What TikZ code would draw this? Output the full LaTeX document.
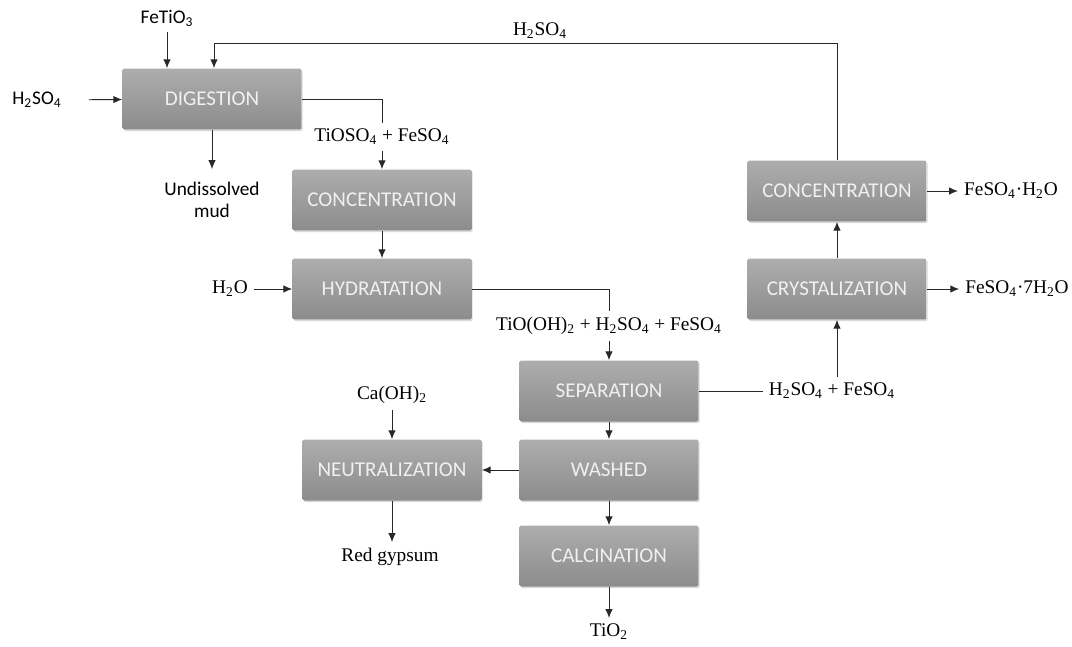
\documentclass[tikz,border=0pt]{standalone}
\usepackage{fontspec}
\setmainfont{Liberation Serif}
\newfontfamily\calibri{Carlito}
\usetikzlibrary{arrows.meta,positioning,calc,shadows}
\definecolor{boxtop}{RGB}{173,173,173}
\definecolor{boxmid}{RGB}{166,166,166}
\definecolor{boxbot}{RGB}{140,140,140}
\definecolor{wire}{RGB}{40,40,40}
\tikzset{
  unit/.style={rectangle,rounded corners=1.2pt,minimum width=3.58cm,minimum height=1.22cm,
    drop shadow={opacity=0.3,shadow xshift=0.7pt,shadow yshift=-0.9pt},
    top color=boxtop,middle color=boxmid,bottom color=boxbot,text=white!94!black,
    font=\calibri\fontsize{12}{13}\selectfont},
  sans/.style={font=\calibri\fontsize{11}{12.5}\selectfont},
  pipe/.style={draw=wire,line width=0.5pt},
  flow/.style={pipe,-{Latex[length=5pt,width=4.2pt]}},
}

\begin{document}
\begin{tikzpicture}[x=0.02cm,y=-0.02cm,every node/.style={font=\fontsize{11}{12.5}\selectfont}]
  \useasboundingbox (0,0) rectangle (1072,646);
  % process units
  \node[unit] (dig) at (212,99) {DIGESTION};
  \node[unit] (conA) at (382,200) {CONCENTRATION};
  \node[unit] (hyd) at (382,289) {HYDRATATION};
  \node[unit] (sep) at (609,391) {SEPARATION};
  \node[unit] (wash) at (609,470) {WASHED};
  \node[unit] (calcin) at (609,556) {CALCINATION};
  \node[unit] (neu) at (392,470) {NEUTRALIZATION};
  \node[unit] (conB) at (837,191) {CONCENTRATION};
  \node[unit] (cry) at (837,289) {CRYSTALIZATION};
  % streams
  \node[sans] (fetio) at (167,18) {FeTiO\textsubscript{3}};
  \node[sans] (acidin) at (37,100) {H\textsubscript{2}SO\textsubscript{4}};
  \node[sans,align=center] (mud) at (212,200) {Undissolved\\mud};
  \node (tioso) at (382,137) {TiOSO\textsubscript{4} + FeSO\textsubscript{4}};
  \node (water) at (230,289) {H\textsubscript{2}O};
  \node (tiooh) at (609,326) {TiO(OH)\textsubscript{2} + H\textsubscript{2}SO\textsubscript{4} + FeSO\textsubscript{4}};
  \node (acidfe) at (832,391) {H\textsubscript{2}SO\textsubscript{4} + FeSO\textsubscript{4}};
  \node (caoh) at (392,395) {Ca(OH)\textsubscript{2}};
  \node (gyp) at (390,557) {Red gypsum};
  \node (tio2) at (609,632) {TiO\textsubscript{2}};
  \node (mono) at (1011,191) {FeSO\textsubscript{4}·H\textsubscript{2}O};
  \node (hepta) at (1017,289) {FeSO\textsubscript{4}·7H\textsubscript{2}O};
  \node (recyc) at (540,31) {H\textsubscript{2}SO\textsubscript{4}};
  \coordinate (loop) at (214,43);
  % connectors
  \draw[flow] (fetio) -- (fetio |- dig.north);
  \draw[flow,shorten <=12pt] (acidin) -- (dig);
  \draw[flow] (conB.north) |- (loop) -- (loop |- dig.north);
  \draw[flow,shorten >=4pt] (dig) -- (mud);
  \draw[pipe] (dig.east) -| (tioso.north);
  \draw[flow] (tioso) -- (conA);
  \draw[flow] (conA) -- (hyd);
  \draw[flow] (water) -- (hyd);
  \draw[pipe] (hyd.east) -| (tiooh.north);
  \foreach \a/\b in {tiooh/sep,sep/wash,wash/calcin,calcin/tio2,wash/neu,caoh/neu,cry/conB,conB/mono,cry/hepta}
    \draw[flow] (\a) -- (\b);
  \draw[flow] (neu) -- (neu |- gyp.north);
  \draw[pipe] (sep) -- (acidfe);
  \draw[flow] (acidfe.north -| cry) -- (cry);
\end{tikzpicture}
\end{document}
